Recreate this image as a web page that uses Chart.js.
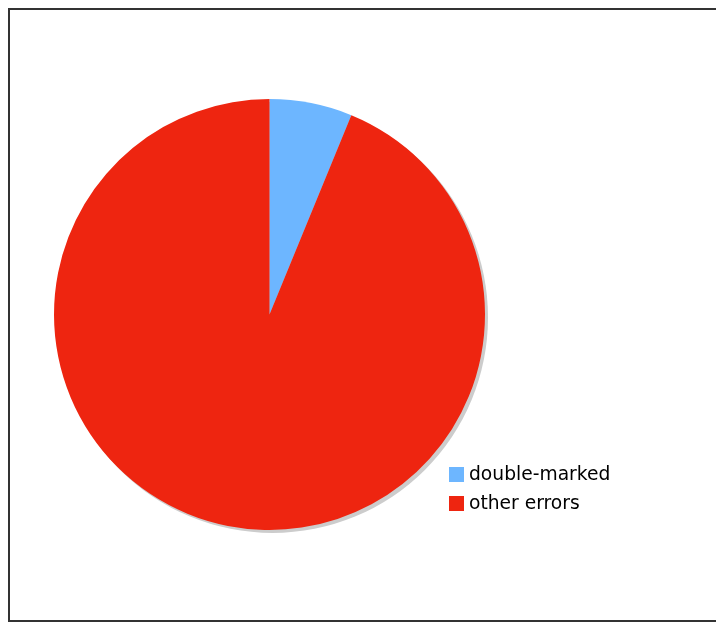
<!DOCTYPE html>
<html>
<head>
<meta charset="utf-8">
<script src="https://cdn.jsdelivr.net/npm/chart.js@4.4.0/dist/chart.umd.min.js"></script>
<style>
  html, body { margin: 0; padding: 0; background: #fff; overflow: hidden; }
  #frame {
    position: absolute; left: 8px; top: 8px;
    width: 720px; height: 610px;
    border: 2px solid #333; border-right: none;
  }
  #wrap { position: absolute; left: 0; top: 0; width: 716px; height: 627px; }
</style>
</head>
<body>
<div id="frame"></div>
<div id="wrap"><canvas id="pieChart" width="716" height="627"></canvas></div>
<script>
// ===== Data =====
const categories = ['double-marked', 'other errors'];
const shares = [6.2, 93.8];
const sliceColors = ['#6db6ff', '#ee2510'];

// ===== Drop shadow behind the pie =====
const pieShadow = {
    id: 'pieShadow',
    beforeDatasetsDraw(chart) {
        const arc = chart.getDatasetMeta(0).data[0];
        if (!arc) return;
        const ctx = chart.ctx;
        ctx.save();
        ctx.fillStyle = '#cccccc';
        ctx.beginPath();
        ctx.arc(arc.x + 3, arc.y + 3, arc.outerRadius, 0, Math.PI * 2);
        ctx.fill();
        ctx.restore();
    }
};

// ===== Legend drawn inside the plot =====
const boxLegend = {
    id: 'boxLegend',
    afterDraw(chart) {
        const ctx = chart.ctx;
        ctx.save();
        ctx.font = '18.7px "DejaVu Sans"';
        ctx.textBaseline = 'middle';
        categories.forEach((label, i) => {
            const y = 474 + i * 29;
            ctx.fillStyle = sliceColors[i];
            ctx.fillRect(449, y - 7, 15, 15);
            ctx.fillStyle = '#000';
            ctx.fillText(label, 469, y + 1);
        });
        ctx.restore();
    }
};

new Chart(document.getElementById('pieChart'), {
    type: 'pie',
    data: {
        labels: categories,
        datasets: [{
            data: shares,
            backgroundColor: sliceColors,
            borderWidth: 0
        }]
    },
    options: {
        responsive: false,
        animation: false,
        layout: {
            padding: { left: 54, top: 99, right: 231, bottom: 97 }
        },
        plugins: {
            legend: { display: false },
            tooltip: { enabled: false }
        }
    },
    plugins: [pieShadow, boxLegend]
});
</script>
</body>
</html>
